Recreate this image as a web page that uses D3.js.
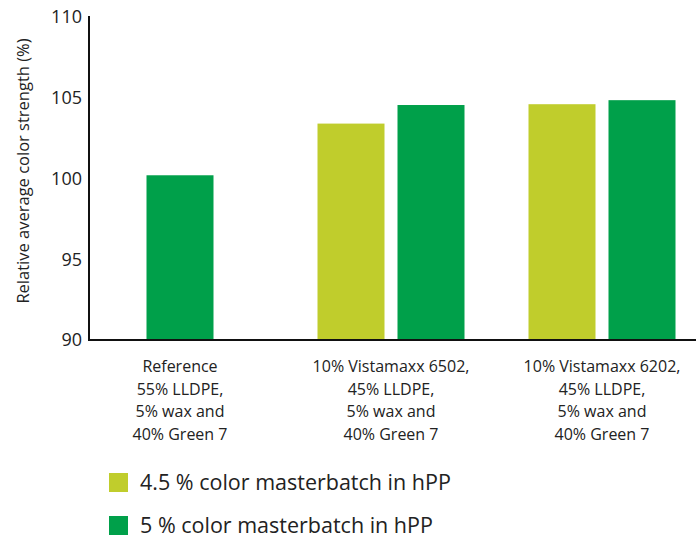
<!DOCTYPE html>
<html>
<head>
<meta charset="utf-8">
<script src="https://cdn.jsdelivr.net/npm/d3@7"></script>
<style>
  body { margin: 0; background: #fff; }
  text { font-family: "Open Sans", "Noto Sans", sans-serif; fill: #222; }
</style>
</head>
<body>
<script>
// categories, one label line per entry
var categories = [
  ["Reference", "55% LLDPE,", "5% wax and", "40% Green 7"],
  ["10% Vistamaxx 6502,", "45% LLDPE,", "5% wax and", "40% Green 7"],
  ["10% Vistamaxx 6202,", "45% LLDPE,", "5% wax and", "40% Green 7"]
];
var seriesNames = ["4.5 % color masterbatch in hPP", "5 % color masterbatch in hPP"];
var seriesColors = ["#C0CD2C", "#00A04A"];
var values45 = [null, 103.4, 104.6];
var values5 = [100.2, 104.55, 104.85];
var yTicks = [90, 95, 100, 105, 110];

var w = 700, h = 540;
var svg = d3.select("body").append("svg")
  .attr("width", w)
  .attr("height", h);

var xLeft = 89, xRight = 696, yBottom = 340, yTop = 16;

var yScale = d3.scaleLinear().domain([90, 110]).range([yBottom, 17]);

// group centres
var xGroup = d3.scalePoint()
  .domain(d3.range(categories.length))
  .range([180, 602]);

// bars inside a group
var xInner = d3.scaleBand()
  .domain([0, 1])
  .range([-73.5, 73.5])
  .paddingInner(0.1625);

var bars = [];
categories.forEach(function (c, i) {
  var vals = [values45[i], values5[i]];
  var present = vals.filter(function (v) { return v != null; }).length;
  vals.forEach(function (v, s) {
    if (v == null) return;
    var x = present == 1
      ? xGroup(i) - xInner.bandwidth() / 2
      : xGroup(i) + xInner(s);
    bars.push({ x: x, value: v, series: s });
  });
});

svg.selectAll("rect.bar")
  .data(bars)
  .enter().append("rect")
  .attr("class", "bar")
  .attr("x", function (d) { return d.x; })
  .attr("y", function (d) { return yScale(d.value); })
  .attr("width", xInner.bandwidth())
  .attr("height", function (d) { return yBottom - yScale(d.value); })
  .attr("fill", function (d) { return seriesColors[d.series]; });

// y axis
var yAxis = svg.append("g")
  .attr("transform", "translate(" + xLeft + ",0)")
  .call(d3.axisLeft(yScale).tickValues(yTicks).tickSize(0).tickPadding(7));
yAxis.select(".domain").remove();
yAxis.selectAll("text")
  .style("font-size", "18px")
  .attr("fill", "#222");

svg.append("line")
  .attr("x1", xLeft).attr("x2", xLeft)
  .attr("y1", yTop).attr("y2", yBottom + 1)
  .attr("stroke", "#111").attr("stroke-width", 2);

svg.append("line")
  .attr("x1", xLeft - 1).attr("x2", xRight)
  .attr("y1", yBottom).attr("y2", yBottom)
  .attr("stroke", "#111").attr("stroke-width", 2);

svg.append("text")
  .attr("transform", "translate(29,171) rotate(-90)")
  .attr("text-anchor", "middle")
  .style("font-size", "16.5px")
  .text("Relative average color strength (%)");

// category labels
var labels = svg.selectAll("text.cat")
  .data(categories)
  .enter().append("text")
  .attr("class", "cat")
  .attr("text-anchor", "middle")
  .style("font-size", "16px")
  .attr("transform", function (d, i) { return "translate(" + xGroup(i) + ",372)"; });
labels.selectAll("tspan")
  .data(function (d) { return d; })
  .enter().append("tspan")
  .attr("x", 0)
  .attr("y", function (d, j) { return j * 22.5; })
  .text(function (d) { return d; });

// legend
var legend = svg.selectAll("g.legend")
  .data(seriesNames)
  .enter().append("g")
  .attr("class", "legend")
  .attr("transform", function (d, i) { return "translate(109," + (473 + i * 43) + ")"; });
legend.append("rect")
  .attr("width", 19).attr("height", 19)
  .attr("fill", function (d, i) { return seriesColors[i]; });
legend.append("text")
  .attr("x", 31)
  .attr("y", 17)
  .style("font-size", "21.5px")
  .text(function (d) { return d; });
</script>
</body>
</html>
